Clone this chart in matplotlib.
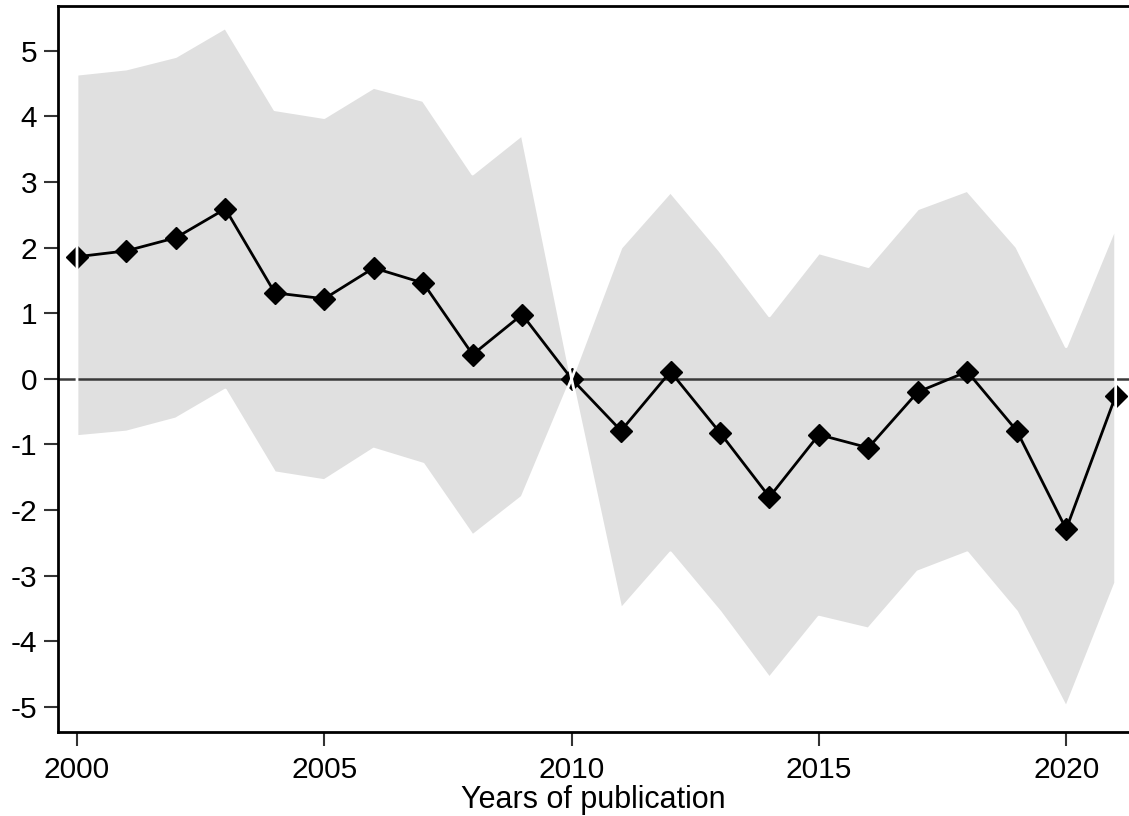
import numpy as np
import matplotlib
matplotlib.use("Agg")
import matplotlib.pyplot as plt

plt.rcParams['font.family'] = ['Liberation Sans', 'DejaVu Sans']
plt.rcParams['axes.unicode_minus'] = False

years = np.arange(2000, 2022)
coef = [1.86, 1.95, 2.15, 2.59, 1.31, 1.22, 1.69, 1.46, 0.37, 0.98, 0.0,
        -0.79, 0.11, -0.82, -1.80, -0.85, -1.05, -0.20, 0.11, -0.79, -2.29, -0.26]
upper = [4.64, 4.72, 4.91, 5.35, 4.10, 3.98, 4.44, 4.24, 3.12, 3.72, 0.0,
         2.00, 2.85, 1.95, 0.96, 1.92, 1.71, 2.59, 2.87, 2.01, 0.49, 2.32]
lower = [-0.88, -0.81, -0.61, -0.17, -1.43, -1.55, -1.07, -1.30, -2.39, -1.80, 0.0,
         -3.51, -2.65, -3.55, -4.56, -3.63, -3.81, -2.94, -2.65, -3.55, -5.01, -3.11]

fig = plt.figure(figsize=(11.29, 8.16), dpi=100)
ax = fig.add_axes([58/1129, 84/816, 1071/1129, 726/816])

# confidence band, face first
ax.fill_between(years, lower, upper, facecolor='#e0e0e0', edgecolor='none', zorder=1)
ax.axhline(0, color='#3a3a3a', lw=1.8, zorder=2)
ax.plot(years, coef, color='black', lw=2, marker='D', ms=11.5,
        markerfacecolor='black', markeredgecolor='black', zorder=3)
# white outline of the band sits above the markers
ax.fill_between(years, lower, upper, facecolor='none', edgecolor='white', lw=2, zorder=4)

ax.set_xlim(1999.616, 2021.27)
ax.set_ylim(-5.38, 5.68)
ax.set_xticks([2000, 2005, 2010, 2015, 2020])
ax.set_yticks(range(-5, 6))
ax.set_xlabel('Years of publication', fontsize=22, labelpad=1)

for s in ax.spines.values():
    s.set_linewidth(2)
    s.set_color('black')
ax.spines['right'].set_visible(False)
ax.tick_params(axis='both', labelsize=21.5, length=10, width=1.5, color='#333333')
ax.tick_params(axis='y', pad=5)
ax.tick_params(axis='x', pad=7)

fig.savefig('out.png', dpi=100)
